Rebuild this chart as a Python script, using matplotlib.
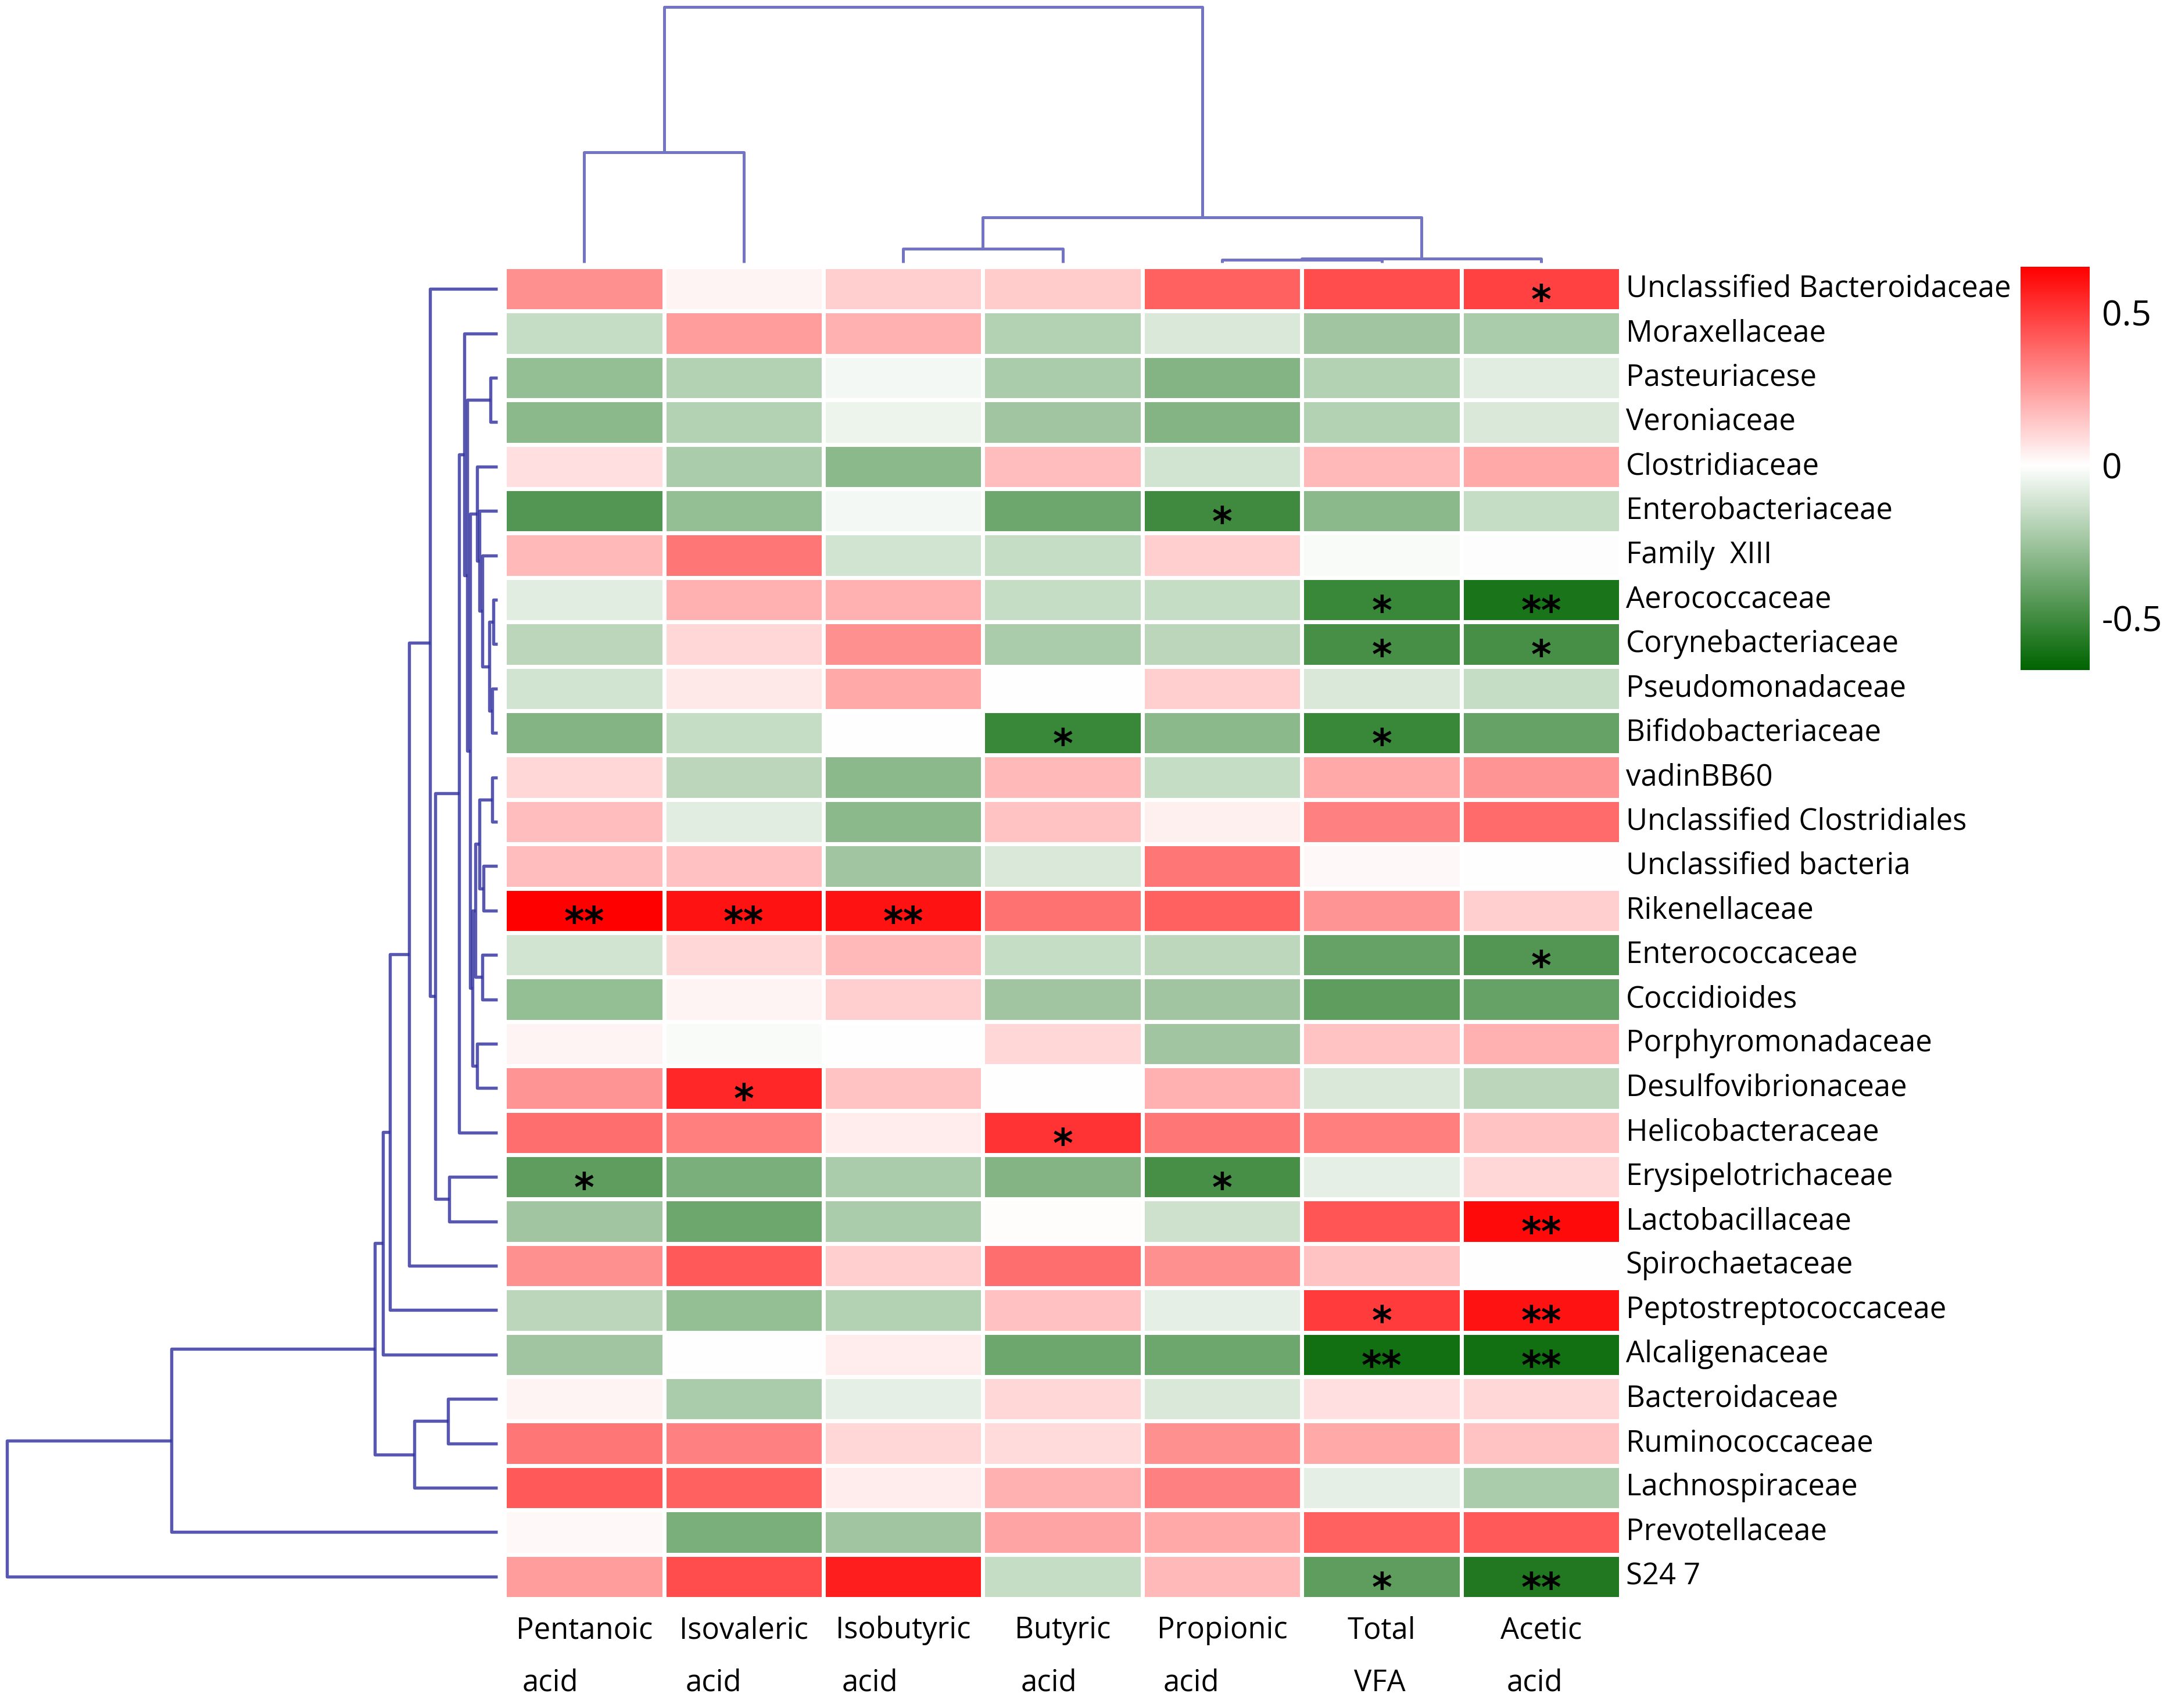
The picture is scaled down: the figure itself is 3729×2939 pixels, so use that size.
import numpy as np
import matplotlib
matplotlib.use("Agg")
import matplotlib.pyplot as plt
from matplotlib.colors import LinearSegmentedColormap, Normalize
from matplotlib.cm import ScalarMappable

plt.rcParams['font.family'] = ['Open Sans', 'DejaVu Sans']

# ---- data ----
acids = ["Pentanoic\nacid", "Isovaleric\nacid", "Isobutyric\nacid", "Butyric\nacid",
         "Propionic\nacid", "Total\nVFA", "Acetic\nacid"]

families = ["Unclassified Bacteroidaceae", "Moraxellaceae", "Pasteuriacese", "Veroniaceae",
            "Clostridiaceae", "Enterobacteriaceae", "Family  XIII", "Aerococcaceae",
            "Corynebacteriaceae", "Pseudomonadaceae", "Bifidobacteriaceae", "vadinBB60",
            "Unclassified Clostridiales", "Unclassified bacteria", "Rikenellaceae",
            "Enterococcaceae", "Coccidioides", "Porphyromonadaceae", "Desulfovibrionaceae",
            "Helicobacteraceae", "Erysipelotrichaceae", "Lactobacillaceae", "Spirochaetaceae",
            "Peptostreptococcaceae", "Alcaligenaceae", "Bacteroidaceae", "Ruminococcaceae",
            "Lachnospiraceae", "Prevotellaceae", "S24 7"]

corr = [
    [0.28, 0.03, 0.12, 0.13, 0.40, 0.45, 0.48],
    [-0.15, 0.25, 0.20, -0.20, -0.10, -0.25, -0.22],
    [-0.28, -0.20, -0.03, -0.22, -0.32, -0.20, -0.08],
    [-0.30, -0.20, -0.05, -0.25, -0.32, -0.20, -0.10],
    [0.08, -0.22, -0.30, 0.17, -0.12, 0.18, 0.22],
    [-0.45, -0.28, -0.03, -0.38, -0.50, -0.30, -0.15],
    [0.18, 0.35, -0.12, -0.15, 0.12, -0.02, -0.01],
    [-0.08, 0.20, 0.20, -0.15, -0.15, -0.52, -0.60],
    [-0.18, 0.10, 0.28, -0.22, -0.18, -0.48, -0.48],
    [-0.12, 0.06, 0.22, 0.00, 0.12, -0.10, -0.15],
    [-0.32, -0.15, 0.00, -0.52, -0.30, -0.52, -0.40],
    [0.10, -0.18, -0.30, 0.18, -0.15, 0.22, 0.27],
    [0.17, -0.08, -0.30, 0.15, 0.04, 0.32, 0.38],
    [0.17, 0.16, -0.25, -0.10, 0.35, 0.02, 0.00],
    [0.65, 0.60, 0.60, 0.36, 0.40, 0.27, 0.12],
    [-0.12, 0.10, 0.18, -0.15, -0.17, -0.40, -0.45],
    [-0.28, 0.03, 0.12, -0.25, -0.25, -0.42, -0.40],
    [0.03, -0.02, 0.00, 0.10, -0.25, 0.15, 0.20],
    [0.27, 0.55, 0.15, 0.00, 0.20, -0.10, -0.18],
    [0.37, 0.33, 0.05, 0.52, 0.35, 0.33, 0.15],
    [-0.42, -0.35, -0.22, -0.32, -0.48, -0.07, 0.10],
    [-0.25, -0.38, -0.22, 0.01, -0.13, 0.43, 0.62],
    [0.28, 0.42, 0.12, 0.37, 0.28, 0.15, 0.00],
    [-0.18, -0.28, -0.20, 0.16, -0.07, 0.50, 0.60],
    [-0.25, 0.00, 0.05, -0.38, -0.38, -0.62, -0.62],
    [0.03, -0.22, -0.07, 0.10, -0.10, 0.08, 0.10],
    [0.35, 0.32, 0.10, 0.09, 0.28, 0.22, 0.15],
    [0.42, 0.40, 0.05, 0.20, 0.32, -0.07, -0.22],
    [0.02, -0.35, -0.25, 0.23, 0.22, 0.40, 0.42],
    [0.25, 0.45, 0.57, -0.15, 0.18, -0.42, -0.58],
]

# significance marks, same shape as corr
signif = [[""] * 7 for _ in families]
stars = [(0, 6, "*"), (5, 4, "*"), (7, 5, "*"), (7, 6, "**"), (8, 5, "*"), (8, 6, "*"),
         (10, 3, "*"), (10, 5, "*"), (14, 0, "**"), (14, 1, "**"), (14, 2, "**"),
         (15, 6, "*"), (18, 1, "*"), (19, 3, "*"), (20, 0, "*"), (20, 4, "*"),
         (21, 6, "**"), (23, 5, "*"), (23, 6, "**"), (24, 5, "**"), (24, 6, "**"),
         (29, 5, "*"), (29, 6, "**")]
for r, c, s in stars:
    signif[r][c] = s

# dendrograms: (node, left child, right child, height); ints are leaves
row_tree = [
    ("a", 7, 8, 3), ("b", 9, 10, 4), ("c", "a", "b", 6), ("d", 6, "c", 11),
    ("e", 5, "d", 13), ("f", 4, "e", 15), ("q", 11, 12, 4), ("p", 13, 14, 10),
    ("g", "q", "p", 13), ("o", 15, 16, 11), ("h1", "g", "o", 16), ("n", 17, 18, 15),
    ("i1", "h1", "n", 18), ("j1", "f", "i1", 20), ("n23", 2, 3, 5), ("k1", "n23", "j1", 22),
    ("m", 1, "k1", 24), ("K", "m", 19, 28), ("L", 20, 21, 35), ("J", "K", "L", 45),
    ("R", 0, "J", 49), ("H", "R", 22, 64), ("F", "H", 23, 78), ("C", "F", 24, 83),
    ("E", 25, 26, 36), ("D", "E", 27, 60), ("B", "C", "D", 89), ("A", "B", 28, 236),
    ("root", "A", 29, 355),
]
col_tree = [
    ("pt", 4, 5, 2), ("pta", "pt", 6, 3), ("ib", 2, 3, 10), ("right", "ib", "pta", 33),
    ("left", 0, 1, 80), ("root", "left", "right", 185),
]


def dendro_segments(tree):
    pos, hgt = {}, {}
    segs = []
    def get(k):
        if isinstance(k, int):
            return k + 0.5, 0.0
        return pos[k], hgt[k]
    for name, l, r, h in tree:
        pl, hl = get(l)
        pr, hr = get(r)
        segs.append(([pl, pl, pr, pr], [hl, h, h, hr]))
        pos[name] = (pl + pr) / 2
        hgt[name] = h
    return segs


W, H = 3729, 2939
fig = plt.figure(figsize=(W / 300, H / 300), dpi=300)

cmap = LinearSegmentedColormap.from_list(
    "gwr", [(0.0, "#006400"), (0.67 / 1.32, "#ffffff"), (1.0, "#ff0000")])
norm = Normalize(vmin=-0.67, vmax=0.65)

# heatmap
ax = fig.add_axes([0.2328, 0.064, 0.5152, 0.7798])
data = np.array(corr)
ax.pcolormesh(np.arange(8), np.arange(31), data, cmap=cmap, norm=norm,
              edgecolors="white", linewidth=1.3)
ax.set_xlim(0, 7)
ax.set_ylim(30, 0)
ax.axis("off")

for i in range(len(families)):
    for j in range(len(acids)):
        if signif[i][j]:
            ax.text(j + 0.5, i + 0.8, signif[i][j], ha="center", va="center",
                    fontsize=16, fontweight="bold", family="DejaVu Sans", color="black")

for i, lab in enumerate(families):
    ax.text(7.03, i + 0.5, lab, ha="left", va="center", fontsize=12.2, color="black")

fig.canvas.draw()
renderer = fig.canvas.get_renderer()
for j, lab in enumerate(acids):
    first, second = lab.split("\n")
    t = ax.text(j + 0.5, 30.72, first, ha="center", va="center", fontsize=12.2)
    bb = t.get_window_extent(renderer)
    x0 = ax.transData.inverted().transform((bb.x0, 0))[0]
    ax.text(x0 + 0.04, 31.9, second, ha="left", va="center", fontsize=12.2)

# row dendrogram
axr = fig.add_axes([0.0032, 0.064, 0.2264, 0.7798])
for ys, xs in dendro_segments(row_tree):
    axr.plot(xs, ys, color="#2e2e9e", lw=1.3, alpha=0.8, clip_on=False,
             solid_capstyle="butt")
axr.set_xlim(355, 0)
axr.set_ylim(30, 0)
axr.axis("off")

# column dendrogram
axc = fig.add_axes([0.2328, 0.8462, 0.5152, 0.1497])
for xs, ys in dendro_segments(col_tree):
    axc.plot(xs, ys, color="#7474c4", lw=1.2, clip_on=False, solid_capstyle="butt")
axc.set_xlim(0, 7)
axc.set_ylim(0, 185)
axc.axis("off")

# colorbar
cax = fig.add_axes([0.9324, 0.6077, 0.0319, 0.2361])
cb = fig.colorbar(ScalarMappable(norm=norm, cmap=cmap), cax=cax)
cb.set_ticks([0.5, 0, -0.5])
cb.set_ticklabels(["0.5", "0", "-0.5"])
cb.outline.set_visible(False)
cax.tick_params(length=0, labelsize=14.5, pad=5)

fig.savefig("out.png", dpi=300)
